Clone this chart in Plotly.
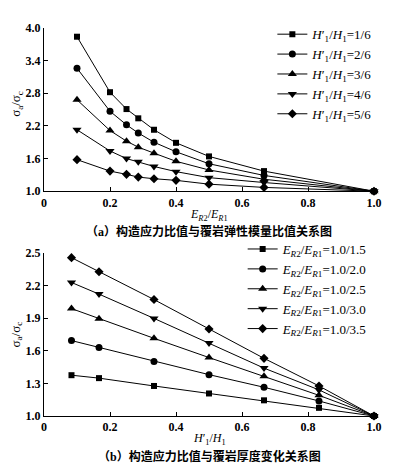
import plotly.graph_objects as go

# ---- data (a) ----
er_ratio = [0.1, 0.2, 0.25, 0.2857, 0.3333, 0.4, 0.5, 0.6667, 1.0]
h_1_6 = [3.84, 2.82, 2.51, 2.34, 2.13, 1.89, 1.64, 1.37, 1.0]
h_2_6 = [3.26, 2.47, 2.22, 2.07, 1.90, 1.725, 1.505, 1.29, 1.0]
h_3_6 = [2.68, 2.115, 1.92, 1.81, 1.70, 1.55, 1.39, 1.22, 1.0]
h_4_6 = [2.13, 1.74, 1.60, 1.54, 1.455, 1.36, 1.25, 1.16, 1.0]
h_5_6 = [1.58, 1.37, 1.31, 1.26, 1.23, 1.20, 1.13, 1.07, 1.0]
names_a = ["1/6", "2/6", "3/6", "4/6", "5/6"]

# ---- data (b) ----
h_ratio = [0.0833, 0.1667, 0.3333, 0.5, 0.6667, 0.8333, 1.0]
e_1_5 = [1.375, 1.348, 1.276, 1.207, 1.144, 1.075, 1.0]
e_2_0 = [1.693, 1.63, 1.50, 1.38, 1.264, 1.138, 1.0]
e_2_5 = [1.987, 1.894, 1.714, 1.537, 1.366, 1.19, 1.0]
e_3_0 = [2.227, 2.12, 1.897, 1.67, 1.44, 1.24, 1.0]
e_3_5 = [2.455, 2.326, 2.07, 1.80, 1.53, 1.276, 1.0]
names_b = ["1.0/1.5", "1.0/2.0", "1.0/2.5", "1.0/3.0", "1.0/3.5"]

x_ticks = [0, 0.2, 0.4, 0.6, 0.8, 1.0]
x_ticktext = ["0", "0.2", "0.4", "0.6", "0.8", "1.0"]
ya_ticks = [1.0, 1.6, 2.2, 2.8, 3.4, 4.0]
yb_ticks = [1.0, 1.3, 1.6, 1.9, 2.2, 2.5]

symbols = ["square", "circle", "triangle-up", "triangle-down", "diamond"]
sizes = [6, 7, 8, 8, 7]

SERIF = "Liberation Serif"
CJK = "Liberation Serif, Noto Sans CJK SC"

fig = go.Figure()

for ys, nm, sym, sz in zip([h_1_6, h_2_6, h_3_6, h_4_6, h_5_6], names_a, symbols, sizes):
    fig.add_trace(go.Scatter(
        x=er_ratio, y=ys, mode="lines+markers",
        name="<i>H</i>′<sub>1</sub>/<i>H</i><sub>1</sub>=" + nm,
        line=dict(color="black", width=1),
        marker=dict(symbol=sym, size=sz, color="black"),
        xaxis="x", yaxis="y", legend="legend", cliponaxis=False))

for ys, nm, sym, sz in zip([e_1_5, e_2_0, e_2_5, e_3_0, e_3_5], names_b, symbols, sizes):
    fig.add_trace(go.Scatter(
        x=h_ratio, y=ys, mode="lines+markers",
        name="<i>E</i><sub><i>R</i>2</sub>/<i>E</i><sub><i>R</i>1</sub>=" + nm,
        line=dict(color="black", width=1),
        marker=dict(symbol=sym, size=sz, color="black"),
        xaxis="x2", yaxis="y2", legend="legend2", cliponaxis=False))

axis_common = dict(showline=True, linecolor="black", linewidth=1, mirror=False,
                   ticks="inside", ticklen=4, tickcolor="black", tickwidth=1,
                   showgrid=False, zeroline=False,
                   tickfont=dict(family=SERIF, size=12, color="black", weight="bold"))

# page body has an 8px margin, so the figure is offset by 8px
fig.update_layout(
    width=385, height=462,
    margin=dict(l=36, r=15, t=11, b=54),
    paper_bgcolor="white", plot_bgcolor="white",
    font=dict(family=SERIF, color="black", size=12),
    xaxis=dict(domain=[0, 1], range=[0, 1], tickvals=x_ticks, ticktext=x_ticktext,
               anchor="y", **axis_common),
    yaxis=dict(domain=[0.5793, 1], range=[1.0, 4.0], tickvals=ya_ticks,
               tickformat=".1f", anchor="x", **axis_common),
    xaxis2=dict(domain=[0, 1], range=[0, 1], tickvals=x_ticks, ticktext=x_ticktext,
                anchor="y2", **axis_common),
    yaxis2=dict(domain=[0, 0.4207], range=[1.0, 2.5], tickvals=yb_ticks,
                tickformat=".1f", anchor="x2", **axis_common),
    legend=dict(x=0.692, y=1.0226, xanchor="left", yanchor="top",
                bgcolor="rgba(0,0,0,0)", font=dict(family=SERIF, size=13)),
    legend2=dict(x=0.602, y=0.469, xanchor="left", yanchor="top",
                 bgcolor="rgba(0,0,0,0)", font=dict(family=SERIF, size=13)),
    showlegend=True,
)

ann = [
    dict(text="<i>E</i><sub><i>R</i>2</sub>/<i>E</i><sub><i>R</i>1</sub>",
         x=0.5, y=0.5189, font=dict(family=SERIF, size=12)),
    dict(text="（a）构造应力比值与覆岩弹性模量比值关系图",
         x=0.5, y=0.4761, font=dict(family=CJK, size=12, weight="bold")),
    dict(text="<i>H</i>′<sub>1</sub>/<i>H</i><sub>1</sub>",
         x=0.5, y=-0.0605, font=dict(family=SERIF, size=12)),
    dict(text="（b）构造应力比值与覆岩厚度变化关系图",
         x=0.5, y=-0.1033, font=dict(family=CJK, size=12, weight="bold")),
    dict(text="σ<sub>a</sub>/σ<sub>c</sub>", x=-0.083, y=0.8035, textangle=-90,
         font=dict(family=SERIF, size=13)),
    dict(text="σ<sub>a</sub>/σ<sub>c</sub>", x=-0.083, y=0.209, textangle=-90,
         font=dict(family=SERIF, size=13)),
]
for a in ann:
    fig.add_annotation(xref="paper", yref="paper", showarrow=False,
                       xanchor="center", yanchor="middle", **a)

fig.write_html("out.html")
